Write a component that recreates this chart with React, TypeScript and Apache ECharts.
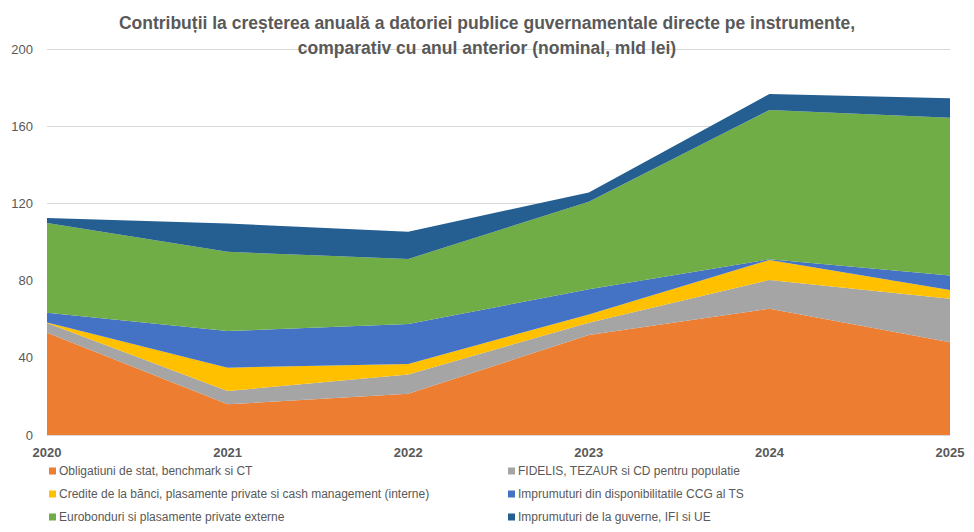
import React, { useEffect, useRef } from "react";
import * as echarts from "echarts";

const years = ["2020", "2021", "2022", "2023", "2024", "2025"];
const seriesNames = [
  "Obligatiuni de stat, benchmark si CT",
  "FIDELIS, TEZAUR si CD pentru populatie",
  "Credite de la bănci, plasamente private si cash management (interne)",
  "Imprumuturi din disponibilitatile CCG al TS",
  "Eurobonduri si plasamente private externe",
  "Imprumuturi de la guverne, IFI si UE",
];
const obligatiuni = [53, 15.9, 21.4, 51.8, 65.4, 48];
const fidelis = [5, 6.9, 10, 6.4, 14.9, 22.6];
const credite = [0.3, 12.1, 5.4, 4.3, 10.4, 4.5];
const imprumuturiCCG = [5, 19, 20.7, 13, 0.3, 7.6];
const eurobonduri = [46.5, 41, 33.7, 45.4, 77.4, 81.7];
const imprumuturiGuverne = [2.6, 14.7, 14.1, 4.8, 8.3, 10.1];
const yTicks = { min: 0, max: 200, interval: 40 };

const colors = ["#ED7D31", "#A5A5A5", "#FFC000", "#4472C4", "#70AD47", "#255E91"];
const FONT = "'Liberation Sans', Arial, sans-serif";

export default function App() {
  const ref = useRef<HTMLDivElement>(null);
  useEffect(() => {
    document.body.style.margin = "0";
    if (!ref.current) return;
    const chart = echarts.init(ref.current, undefined, { renderer: "svg" });
    const data = [obligatiuni, fidelis, credite, imprumuturiCCG, eurobonduri, imprumuturiGuverne];
    const legendText = { color: "#595959", fontSize: 12, fontFamily: FONT, padding: [0, 0, 0, -2] };
    chart.setOption({
      animation: false,
      backgroundColor: "#ffffff",
      textStyle: { fontFamily: FONT },
      title: {
        text: "Contribuții la creșterea anuală a datoriei publice guvernamentale directe pe instrumente,\ncomparativ cu anul anterior (nominal, mld lei)",
        left: "center",
        top: 5,
        textStyle: {
          color: "#595959",
          fontSize: 17.5,
          fontWeight: "bold",
          fontFamily: FONT,
          lineHeight: 25,
          align: "center",
        },
      },
      grid: { left: 47, right: 24, top: 49, bottom: 97, containLabel: false },
      legend: [
        {
          orient: "vertical",
          left: 44,
          top: 460,
          itemGap: 11,
          itemWidth: 7,
          itemHeight: 7,
          icon: "rect",
          textStyle: legendText,
          data: [seriesNames[0], seriesNames[2], seriesNames[4]],
        },
        {
          orient: "vertical",
          left: 503,
          top: 460,
          itemGap: 11,
          itemWidth: 7,
          itemHeight: 7,
          icon: "rect",
          textStyle: legendText,
          data: [seriesNames[1], seriesNames[3], seriesNames[5]],
        },
      ],
      xAxis: {
        type: "category",
        data: years,
        boundaryGap: false,
        axisLine: { show: true, lineStyle: { color: "#D9D9D9" } },
        axisTick: { show: false },
        axisLabel: {
          color: "#595959",
          fontSize: 13,
          fontWeight: "bold",
          fontFamily: FONT,
          margin: 11,
        },
        splitLine: { show: false },
      },
      yAxis: {
        type: "value",
        min: yTicks.min,
        max: yTicks.max,
        interval: yTicks.interval,
        axisLine: { show: false },
        axisTick: { show: false },
        axisLabel: { color: "#595959", fontSize: 13, fontFamily: FONT, margin: 14 },
        splitLine: { lineStyle: { color: "#D9D9D9", width: 1 } },
      },
      series: data.map((d, i) => ({
        name: seriesNames[i],
        type: "line",
        stack: "total",
        data: d,
        showSymbol: false,
        symbol: "none",
        lineStyle: { width: 0 },
        itemStyle: { color: colors[i] },
        areaStyle: { color: colors[i], opacity: 1 },
        z: 2,
      })),
    });
    return () => chart.dispose();
  }, []);
  return <div ref={ref} style={{ width: 974, height: 532 }} />;
}
